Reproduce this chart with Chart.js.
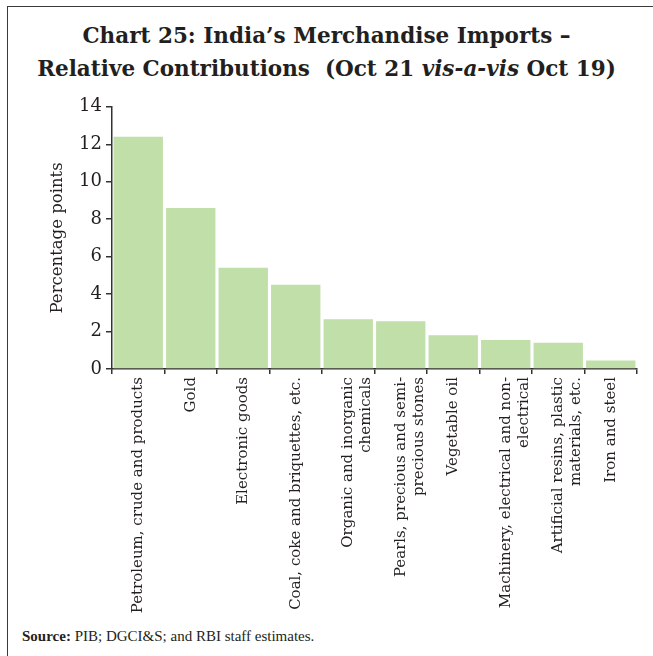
<!DOCTYPE html>
<html>
<head>
<meta charset="utf-8">
<script src="https://cdn.jsdelivr.net/npm/chart.js@4/dist/chart.umd.min.js"></script>
<style>
  html, body { margin: 0; padding: 0; background: #fff; }
  #page { position: relative; width: 653px; height: 656px; overflow: hidden; }
  #frame {
    position: absolute; left: 7px; top: 6px; right: -2px; bottom: -2px;
    border-left: 1.5px solid #3a3a3a; border-top: 1.5px solid #3a3a3a;
  }
  #title {
    position: absolute; left: 0; top: 19px; width: 653px; text-align: center;
    font-family: "DejaVu Serif", serif; font-weight: bold; font-size: 21.5px;
    line-height: 33px; color: #231f20;
  }
  #wrap { position: absolute; left: 0; top: 92px; width: 653px; height: 533px; }
  #source {
    position: absolute; left: 22px; top: 628px;
    font-family: "Liberation Serif", serif; font-size: 15px; color: #231f20;
  }
</style>
</head>
<body>
<div id="page">
  <div id="frame"></div>
  <div id="title">Chart 25: India’s Merchandise Imports –<br>Relative Contributions&nbsp;&nbsp;(Oct 21 <i>vis-a-vis</i> Oct 19)</div>
  <div id="wrap"><canvas id="chart"></canvas></div>
  <div id="source"><b>Source:</b> PIB; DGCI&amp;S; and RBI staff estimates.</div>
</div>
<script>
// ---------- data ----------
const categories = [
  "Petroleum, crude and products",
  "Gold",
  "Electronic goods",
  "Coal, coke and briquettes, etc.",
  ["Organic and inorganic", "chemicals"],
  ["Pearls, precious and semi-", "precious stones"],
  "Vegetable oil",
  ["Machinery, electrical and non-", "electrical"],
  ["Artificial resins, plastic", "materials, etc."],
  "Iron and steel",
];
const contributions = [12.4, 8.6, 5.4, 4.5, 2.65, 2.55, 1.8, 1.55, 1.4, 0.45];
const yTicks = [0, 2, 4, 6, 8, 10, 12, 14];

// ---------- style ----------
const INK = "#231f20";
const AXIS = "#333333";
const BAR = "#c1dfa9";
const SERIF = "'DejaVu Serif', serif";

new Chart(document.getElementById("chart"), {
  type: "bar",
  data: {
    labels: categories,
    datasets: [{
      data: contributions,
      backgroundColor: BAR,
      borderWidth: 0,
      barPercentage: 0.94,
      categoryPercentage: 1,
    }],
  },
  options: {
    responsive: true,
    maintainAspectRatio: false,
    animation: false,
    layout: { padding: { left: 48, right: 16, top: 6, bottom: 0 } },
    plugins: { legend: { display: false }, tooltip: { enabled: false } },
    scales: {
      x: {
        grid: { drawOnChartArea: false, tickLength: 5, color: AXIS, lineWidth: 1.5 },
        border: { color: AXIS, width: 1.5 },
        ticks: {
          color: INK, font: { family: SERIF, size: 15 },
          minRotation: 90, maxRotation: 90, autoSkip: false, padding: 3,
        },
        afterFit: (s) => { s.height = 256; },
      },
      y: {
        min: 0, max: 14,
        afterBuildTicks: (s) => { s.ticks = yTicks.map((v) => ({ value: v })); },
        grid: { drawOnChartArea: false, tickLength: 6, color: AXIS, lineWidth: 1.5 },
        border: { color: AXIS, width: 1.5 },
        ticks: { color: INK, font: { family: SERIF, size: 18 }, padding: 4 },
        title: {
          display: true, text: "Percentage points", color: INK,
          font: { family: SERIF, size: 16.5 }, padding: 0,
        },
        afterFit: (s) => { s.width = 64; },
      },
    },
  },
});
</script>
</body>
</html>
